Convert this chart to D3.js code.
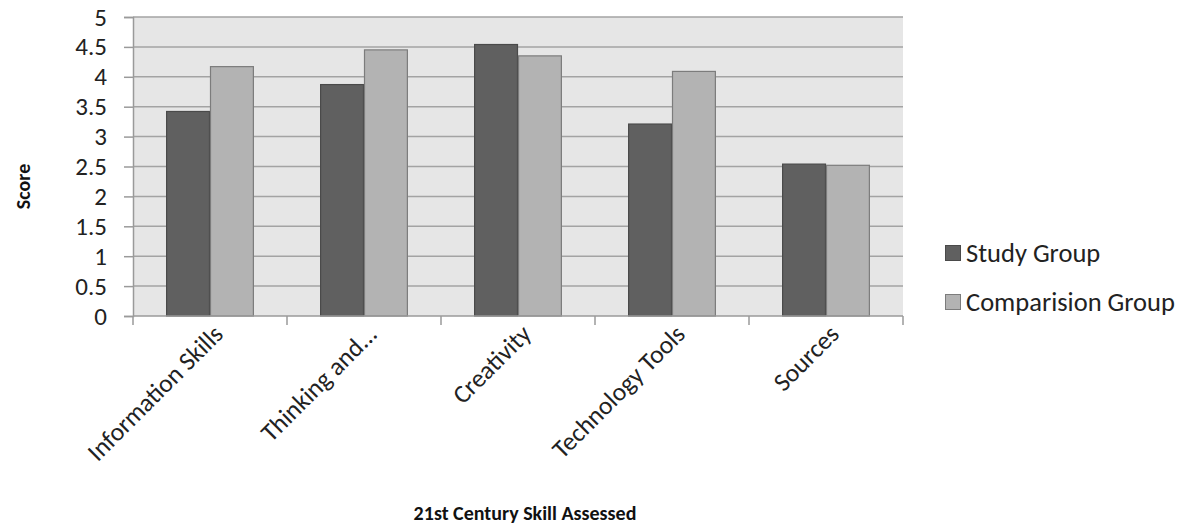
<!DOCTYPE html>
<html>
<head>
<meta charset="utf-8">
<script src="https://cdn.jsdelivr.net/npm/d3@7"></script>
<style>
  html, body { margin: 0; padding: 0; background: #ffffff; }
  svg { display: block; font-family: Carlito, Lato, "Open Sans", sans-serif; }
</style>
</head>
<body>
<svg id="chart" width="1181" height="529"></svg>
<script>
// Skill areas on the x axis
const categories = ["Information Skills", "Thinking and...", "Creativity", "Technology Tools", "Sources"];
// Mean scores per group
const studyGroup = [3.42, 3.87, 4.54, 3.21, 2.54];
const comparisonGroup = [4.17, 4.45, 4.35, 4.09, 2.52];
const seriesNames = ["Study Group", "Comparision Group"];
const yTicks = [0, 0.5, 1, 1.5, 2, 2.5, 3, 3.5, 4, 4.5, 5];

const colors = { fill: ["#606060", "#b3b3b3"], stroke: ["#4a4a4a", "#7c7c7c"] };
const tickSize = 25;
const catSize = 25.5;
const legendSize = 26.5;
const titleSize = 20;

const svg = d3.select("#chart");
const plot = { left: 133, right: 903, top: 17, bottom: 316 };

const x0 = d3.scaleBand()
  .domain(categories)
  .range([plot.left, plot.right])
  .paddingInner(0)
  .paddingOuter(0);

const groupInner = 0.43;   // fraction of each slot left empty around the pair
const x1 = d3.scaleBand()
  .domain(seriesNames)
  .range([x0.bandwidth() * groupInner / 2, x0.bandwidth() * (1 - groupInner / 2)])
  .padding(0);

const y = d3.scaleLinear().domain([0, 5]).range([plot.bottom, plot.top]);

// plot background
svg.append("rect")
  .attr("x", plot.left).attr("y", plot.top)
  .attr("width", plot.right - plot.left).attr("height", plot.bottom - plot.top)
  .attr("fill", "#e6e6e6");

// horizontal gridlines
svg.append("g")
  .selectAll("line")
  .data(yTicks.filter(t => t > 0))
  .join("line")
  .attr("x1", plot.left).attr("x2", plot.right)
  .attr("y1", d => y(d)).attr("y2", d => y(d))
  .attr("stroke", "#a3a3a3").attr("stroke-width", 1.5);

// bars
const rows = categories.map((c, i) => ({ cat: c, vals: [studyGroup[i], comparisonGroup[i]] }));
const groups = svg.append("g").selectAll("g")
  .data(rows)
  .join("g")
  .attr("transform", d => `translate(${x0(d.cat)},0)`);

groups.selectAll("rect")
  .data(d => d.vals.map((v, k) => ({ v, k })))
  .join("rect")
  .attr("x", d => x1(seriesNames[d.k]) + 0.5)
  .attr("y", d => y(d.v))
  .attr("width", x1.bandwidth() - 1)
  .attr("height", d => y(0) - y(d.v))
  .attr("fill", d => colors.fill[d.k])
  .attr("stroke", d => colors.stroke[d.k])
  .attr("stroke-width", 1.2);

// y axis
const yAxis = svg.append("g")
  .attr("transform", `translate(${plot.left},0)`)
  .call(d3.axisLeft(y).tickValues(yTicks).tickSize(9).tickPadding(17)
    .tickFormat(d => String(d)));
yAxis.select(".domain").attr("stroke", "#9a9a9a").attr("stroke-width", 1.5);
yAxis.selectAll(".tick line").attr("stroke", "#9a9a9a").attr("stroke-width", 1.5);
yAxis.selectAll(".tick text")
  .attr("font-size", tickSize).attr("fill", "#222")
  .attr("font-family", "Carlito, Lato, sans-serif");

// x axis
const xAxis = svg.append("g")
  .attr("transform", `translate(0,${plot.bottom})`);
xAxis.append("line")
  .attr("x1", plot.left).attr("x2", plot.right)
  .attr("stroke", "#9a9a9a").attr("stroke-width", 1.5);
const boundaries = categories.map(c => x0(c)).concat([plot.right]);
xAxis.selectAll("line.tick")
  .data(boundaries)
  .join("line")
  .attr("class", "tick")
  .attr("x1", d => d).attr("x2", d => d)
  .attr("y1", 0).attr("y2", 9)
  .attr("stroke", "#9a9a9a").attr("stroke-width", 1.5);

xAxis.selectAll("text.cat")
  .data(categories)
  .join("text")
  .attr("class", "cat")
  .attr("transform", d => `translate(${x0(d) + x0.bandwidth() / 2 + 2},${7}) rotate(-45)`)
  .attr("text-anchor", "end")
  .attr("dy", "0.7em")
  .attr("font-size", catSize)
  .attr("fill", "#222")
  .text(d => d);

// axis titles
svg.append("text")
  .attr("transform", `translate(30,${(plot.top + plot.bottom) / 2 + 20}) rotate(-90)`)
  .attr("text-anchor", "middle")
  .attr("font-size", titleSize).attr("font-weight", "bold").attr("fill", "#111")
  .text("Score");

svg.append("text")
  .attr("x", (plot.left + plot.right) / 2 + 7)
  .attr("y", 520)
  .attr("text-anchor", "middle")
  .attr("font-size", titleSize).attr("font-weight", "bold").attr("fill", "#111")
  .text("21st Century Skill Assessed");

// legend
const legend = svg.append("g").attr("transform", "translate(945,245)");
const item = legend.selectAll("g")
  .data(seriesNames)
  .join("g")
  .attr("transform", (d, i) => `translate(0,${i * 49})`);
item.append("rect")
  .attr("x", 0.5).attr("y", 0.5)
  .attr("width", 15).attr("height", 15)
  .attr("fill", (d, i) => colors.fill[i])
  .attr("stroke", (d, i) => colors.stroke[i]);
item.append("text")
  .attr("x", 21).attr("y", 8)
  .attr("dy", "0.35em")
  .attr("font-size", legendSize)
  .attr("fill", "#222")
  .text(d => d);
</script>
</body>
</html>
